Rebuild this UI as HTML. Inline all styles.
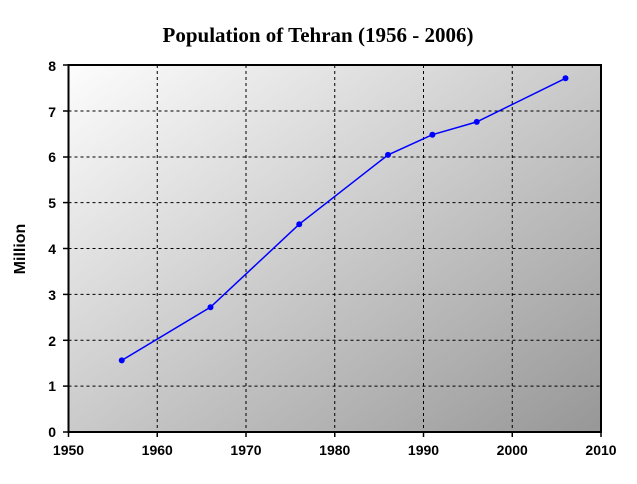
<!DOCTYPE html>
<html><head><style>body{margin:0;background:#fff}</style></head><body>
<svg width="637" height="479" xmlns="http://www.w3.org/2000/svg">
<defs><linearGradient id="g" x1="0" y1="0" x2="1" y2="1"><stop offset="0" stop-color="#fdfdfd"/><stop offset="1" stop-color="#979797"/></linearGradient></defs>
<text x="318" y="42" text-anchor="middle" font-family="Liberation Serif, serif" font-size="21" font-weight="bold" fill="#000">Population of Tehran (1956 - 2006)</text>
<rect x="68.5" y="65" width="532.5" height="367" fill="url(#g)" stroke="#000" stroke-width="2"/>
<g stroke="#000" stroke-width="1" stroke-dasharray="3,3">
<line x1="157.25" y1="65" x2="157.25" y2="432"/><line x1="246" y1="65" x2="246" y2="432"/><line x1="334.75" y1="65" x2="334.75" y2="432"/><line x1="423.5" y1="65" x2="423.5" y2="432"/><line x1="512.25" y1="65" x2="512.25" y2="432"/>
<line x1="68.5" y1="111" x2="601" y2="111"/><line x1="68.5" y1="157" x2="601" y2="157"/><line x1="68.5" y1="202.6" x2="601" y2="202.6"/><line x1="68.5" y1="248.5" x2="601" y2="248.5"/><line x1="68.5" y1="294.4" x2="601" y2="294.4"/><line x1="68.5" y1="340.3" x2="601" y2="340.3"/><line x1="68.5" y1="386.1" x2="601" y2="386.1"/>
</g>
<g stroke="#000" stroke-width="1.5">
<line x1="63" y1="65" x2="68.5" y2="65"/><line x1="63" y1="111" x2="68.5" y2="111"/><line x1="63" y1="157" x2="68.5" y2="157"/><line x1="63" y1="202.6" x2="68.5" y2="202.6"/><line x1="63" y1="248.5" x2="68.5" y2="248.5"/><line x1="63" y1="294.4" x2="68.5" y2="294.4"/><line x1="63" y1="340.3" x2="68.5" y2="340.3"/><line x1="63" y1="386.1" x2="68.5" y2="386.1"/><line x1="63" y1="432" x2="68.5" y2="432"/>
<line x1="68.5" y1="432" x2="68.5" y2="437"/><line x1="157.25" y1="432" x2="157.25" y2="437"/><line x1="246" y1="432" x2="246" y2="437"/><line x1="334.75" y1="432" x2="334.75" y2="437"/><line x1="423.5" y1="432" x2="423.5" y2="437"/><line x1="512.25" y1="432" x2="512.25" y2="437"/><line x1="601" y1="432" x2="601" y2="437"/>
</g>
<g font-family="Liberation Sans, sans-serif" font-size="14" font-weight="bold" fill="#000" text-anchor="end">
<text x="56" y="71">8</text><text x="56" y="117">7</text><text x="56" y="162">6</text><text x="56" y="208">5</text><text x="56" y="254">4</text><text x="56" y="300">3</text><text x="56" y="346">2</text><text x="56" y="391">1</text><text x="56" y="437">0</text>
</g>
<g font-family="Liberation Sans, sans-serif" font-size="14" font-weight="bold" fill="#000" text-anchor="middle">
<text x="68.5" y="455">1950</text><text x="157.25" y="455">1960</text><text x="246" y="455">1970</text><text x="334.75" y="455">1980</text><text x="423.5" y="455">1990</text><text x="512.25" y="455">2000</text><text x="601" y="455">2010</text>
</g>
<text transform="translate(25,249) rotate(-90)" text-anchor="middle" font-family="Liberation Sans, sans-serif" font-size="16" font-weight="bold">Million</text>
<polyline fill="none" stroke="#0000ff" stroke-width="1.5" points="121.75,360.4 210.5,307.2 299.25,224.2 388,154.9 432.4,134.7 476.75,121.9 565.5,78.3"/>
<g fill="#0000ff">
<circle cx="121.75" cy="360.4" r="3"/><circle cx="210.5" cy="307.2" r="3"/><circle cx="299.25" cy="224.2" r="3"/><circle cx="388" cy="154.9" r="3"/><circle cx="432.4" cy="134.7" r="3"/><circle cx="476.75" cy="121.9" r="3"/><circle cx="565.5" cy="78.3" r="3"/>
</g>
</svg>
</body></html>
